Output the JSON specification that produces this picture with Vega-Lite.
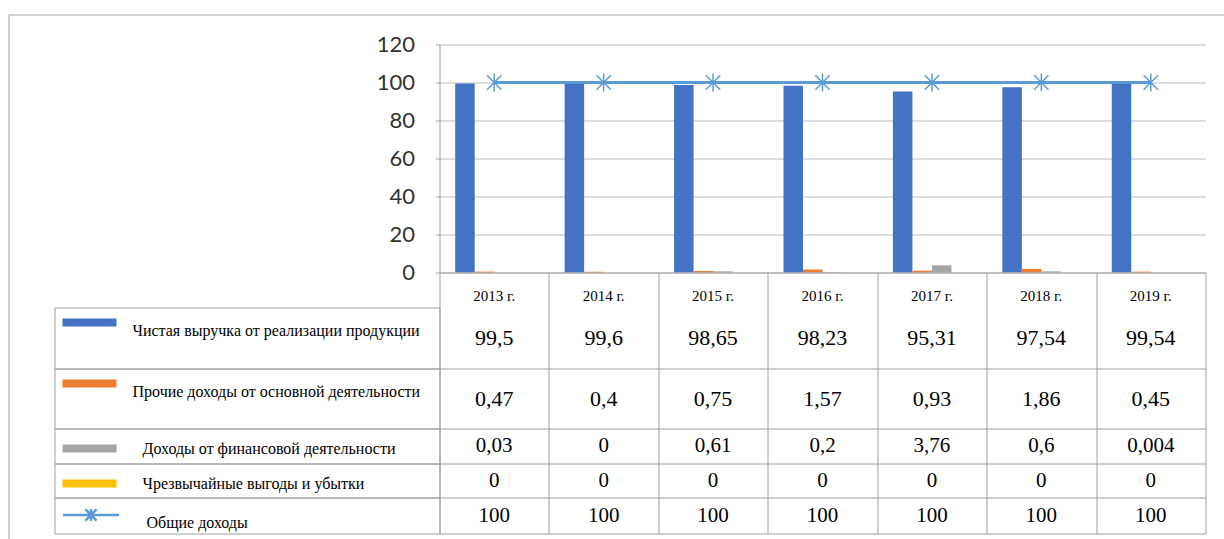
{
  "$schema": "https://vega.github.io/schema/vega-lite/v6.json",
  "background": "white",
  "padding": {"left": 8.5, "top": 8.5, "right": 0, "bottom": 0},
  "autosize": {"type": "pad"},
  "datasets": {
    "d": [
      {"year": "2013 г.", "series": "Чистая выручка от реализации продукции", "v": 99.5},
      {"year": "2014 г.", "series": "Чистая выручка от реализации продукции", "v": 99.6},
      {"year": "2015 г.", "series": "Чистая выручка от реализации продукции", "v": 98.65},
      {"year": "2016 г.", "series": "Чистая выручка от реализации продукции", "v": 98.23},
      {"year": "2017 г.", "series": "Чистая выручка от реализации продукции", "v": 95.31},
      {"year": "2018 г.", "series": "Чистая выручка от реализации продукции", "v": 97.54},
      {"year": "2019 г.", "series": "Чистая выручка от реализации продукции", "v": 99.54},
      {"year": "2013 г.", "series": "Прочие доходы от основной деятельности", "v": 0.47},
      {"year": "2014 г.", "series": "Прочие доходы от основной деятельности", "v": 0.4},
      {"year": "2015 г.", "series": "Прочие доходы от основной деятельности", "v": 0.75},
      {"year": "2016 г.", "series": "Прочие доходы от основной деятельности", "v": 1.57},
      {"year": "2017 г.", "series": "Прочие доходы от основной деятельности", "v": 0.93},
      {"year": "2018 г.", "series": "Прочие доходы от основной деятельности", "v": 1.86},
      {"year": "2019 г.", "series": "Прочие доходы от основной деятельности", "v": 0.45},
      {"year": "2013 г.", "series": "Доходы от финансовой деятельности", "v": 0.03},
      {"year": "2014 г.", "series": "Доходы от финансовой деятельности", "v": 0},
      {"year": "2015 г.", "series": "Доходы от финансовой деятельности", "v": 0.61},
      {"year": "2016 г.", "series": "Доходы от финансовой деятельности", "v": 0.2},
      {"year": "2017 г.", "series": "Доходы от финансовой деятельности", "v": 3.76},
      {"year": "2018 г.", "series": "Доходы от финансовой деятельности", "v": 0.6},
      {"year": "2019 г.", "series": "Доходы от финансовой деятельности", "v": 0.004},
      {"year": "2013 г.", "series": "Чрезвычайные выгоды и убытки", "v": 0},
      {"year": "2014 г.", "series": "Чрезвычайные выгоды и убытки", "v": 0},
      {"year": "2015 г.", "series": "Чрезвычайные выгоды и убытки", "v": 0},
      {"year": "2016 г.", "series": "Чрезвычайные выгоды и убытки", "v": 0},
      {"year": "2017 г.", "series": "Чрезвычайные выгоды и убытки", "v": 0},
      {"year": "2018 г.", "series": "Чрезвычайные выгоды и убытки", "v": 0},
      {"year": "2019 г.", "series": "Чрезвычайные выгоды и убытки", "v": 0},
      {"year": "2013 г.", "series": "Общие доходы", "v": 100},
      {"year": "2014 г.", "series": "Общие доходы", "v": 100},
      {"year": "2015 г.", "series": "Общие доходы", "v": 100},
      {"year": "2016 г.", "series": "Общие доходы", "v": 100},
      {"year": "2017 г.", "series": "Общие доходы", "v": 100},
      {"year": "2018 г.", "series": "Общие доходы", "v": 100},
      {"year": "2019 г.", "series": "Общие доходы", "v": 100}
    ]
  },
  "columns": 2,
  "spacing": 0,
  "bounds": "flush",
  "align": "each",
  "resolve": {
    "scale": {"x": "independent", "y": "independent", "color": "independent", "xOffset": "independent"},
    "axis": {"x": "independent", "y": "independent"},
    "legend": {"color": "independent"}
  },
  "concat": [
    {
      "width": 385, "height": 228,
      "data": {"values": [{"a": 0, "b": 0}]},
      "mark": {"type": "text", "text": ""},
      "encoding": {
        "x": {"field": "a", "type": "quantitative", "scale": {"domain": [0, 1], "range": [-46, 1175], "nice": false, "zero": false},
              "axis": {"orient": "top", "offset": 30, "domain": true, "domainColor": "#a0a0a0", "ticks": false, "labels": false, "grid": false, "title": null}},
        "y": {"field": "b", "type": "quantitative", "scale": {"domain": [0, 1], "range": [-30, 500], "nice": false, "zero": false},
              "axis": {"orient": "left", "offset": 46, "domain": true, "domainColor": "#a0a0a0", "ticks": false, "labels": false, "grid": false, "title": null}}
      }
    },
    {
      "width": 766, "height": 228,
      "data": {"name": "d"},
      "encoding": {
        "x": {"field": "year", "type": "nominal", "scale": {"type": "band", "paddingInner": 0.287, "paddingOuter": 0.1435}, "axis": null},
        "y": {"field": "v", "type": "quantitative", "scale": {"domain": [0, 120], "nice": false},
              "axis": {"orient": "left", "values": [0, 20, 40, 60, 80, 100, 120], "tickCount": 7, "labelOverlap": false, "grid": true, "gridColor": "#bdbdbd", "domain": true, "domainColor": "#a0a0a0", "ticks": true, "tickSize": 4, "tickColor": "#a0a0a0", "labelPadding": 21, "labelFont": "Lato", "labelFontSize": 22, "labelColor": "#333333", "title": null}}
      },
      "layer": [
        {
          "transform": [{"filter": "datum.series !== 'Общие доходы'"}],
          "mark": {"type": "bar"},
          "encoding": {
            "xOffset": {"field": "series", "type": "nominal", "scale": {"domain": ["Чистая выручка от реализации продукции", "Прочие доходы от основной деятельности", "Доходы от финансовой деятельности", "Чрезвычайные выгоды и убытки"], "paddingInner": 0, "paddingOuter": 0}},
            "color": {"field": "series", "type": "nominal", "scale": {"domain": ["Чистая выручка от реализации продукции", "Прочие доходы от основной деятельности", "Доходы от финансовой деятельности", "Чрезвычайные выгоды и убытки"], "range": ["#4472C4", "#ED7D31", "#A5A5A5", "#FFC000"]}, "legend": null}
          }
        },
        {
          "transform": [{"filter": "datum.series === 'Общие доходы'"}],
          "mark": {"type": "line", "color": "#5B9BD5", "strokeWidth": 3},
          "encoding": {}
        },
        {
          "transform": [{"filter": "datum.series === 'Общие доходы'"}],
          "mark": {"type": "point", "shape": "M0,-1L0,1M-0.8,-0.8L0.8,0.8M-0.8,0.8L0.8,-0.8", "size": 324, "filled": false, "color": "#5B9BD5", "strokeWidth": 1.5, "opacity": 1},
          "encoding": {}
        }
      ]
    },
    {
      "width": 385, "height": 35,
      "data": {"values": []},
      "mark": "text"
    },
    {
      "width": 766, "height": 35,
      "data": {"name": "d"},
      "transform": [{"filter": "datum.series === 'Общие доходы'"}],
      "mark": {"type": "text", "font": "Liberation Serif", "fontSize": 15, "color": "black", "dy": 6},
      "encoding": {
        "x": {"field": "year", "type": "nominal", "scale": {"type": "band", "paddingInner": 0, "paddingOuter": 0},
              "axis": {"orient": "top", "domain": true, "domainColor": "#a0a0a0", "grid": true, "gridColor": "#a0a0a0", "tickBand": "extent", "ticks": false, "labels": false, "title": null}},
        "text": {"field": "year"}
      }
    },
    {
      "width": 385, "height": 61, "view": {"stroke": "#a0a0a0"},
      "data": {"name": "d"},
      "transform": [{"filter": "datum.series === 'Чистая выручка от реализации продукции'"}],
      "mark": {"type": "square", "filled": true, "opacity": 0},
      "encoding": {
        "color": {"field": "series", "type": "nominal", "scale": {"range": ["#4472C4"]},
                  "legend": {"title": null, "orient": "none", "legendX": 8, "legendY": -12, "padding": 0, "symbolType": "M-1,-0.15L1,-0.15L1,0.15L-1,0.15Z", "symbolSize": 2916, "symbolStrokeWidth": 0, "labelFont": "Liberation Serif", "labelFontSize": 16, "labelColor": "black", "labelOffset": 16, "labelLimit": 600, "labelBaseline": "top"}}
      }
    },
    {
      "width": 766, "height": 61,
      "data": {"name": "d"},
      "transform": [{"filter": "datum.series === 'Чистая выручка от реализации продукции'"}, {"calculate": "replace(toString(datum.v), '.', ',')", "as": "lab"}],
      "mark": {"type": "text", "font": "Liberation Serif", "fontSize": 22, "color": "black"},
      "encoding": {
        "x": {"field": "year", "type": "nominal", "scale": {"type": "band", "paddingInner": 0, "paddingOuter": 0},
              "axis": {"orient": "bottom", "domain": true, "domainColor": "#a0a0a0", "grid": true, "gridColor": "#a0a0a0", "tickBand": "extent", "ticks": false, "labels": false, "title": null}},
        "text": {"field": "lab"}
      }
    },
    {
      "width": 385, "height": 60, "view": {"stroke": "#a0a0a0"},
      "data": {"name": "d"},
      "transform": [{"filter": "datum.series === 'Прочие доходы от основной деятельности'"}],
      "mark": {"type": "square", "filled": true, "opacity": 0},
      "encoding": {
        "color": {"field": "series", "type": "nominal", "scale": {"range": ["#ED7D31"]},
                  "legend": {"title": null, "orient": "none", "legendX": 8, "legendY": -12, "padding": 0, "symbolType": "M-1,-0.15L1,-0.15L1,0.15L-1,0.15Z", "symbolSize": 2916, "symbolStrokeWidth": 0, "labelFont": "Liberation Serif", "labelFontSize": 16, "labelColor": "black", "labelOffset": 16, "labelLimit": 600, "labelBaseline": "top"}}
      }
    },
    {
      "width": 766, "height": 60,
      "data": {"name": "d"},
      "transform": [{"filter": "datum.series === 'Прочие доходы от основной деятельности'"}, {"calculate": "replace(toString(datum.v), '.', ',')", "as": "lab"}],
      "mark": {"type": "text", "font": "Liberation Serif", "fontSize": 22, "color": "black"},
      "encoding": {
        "x": {"field": "year", "type": "nominal", "scale": {"type": "band", "paddingInner": 0, "paddingOuter": 0},
              "axis": {"orient": "bottom", "domain": true, "domainColor": "#a0a0a0", "grid": true, "gridColor": "#a0a0a0", "tickBand": "extent", "ticks": false, "labels": false, "title": null}},
        "text": {"field": "lab"}
      }
    },
    {
      "width": 385, "height": 35, "view": {"stroke": "#a0a0a0"},
      "data": {"name": "d"},
      "transform": [{"filter": "datum.series === 'Доходы от финансовой деятельности'"}],
      "mark": {"type": "square", "filled": true, "opacity": 0},
      "encoding": {
        "color": {"field": "series", "type": "nominal", "scale": {"range": ["#A5A5A5"]},
                  "legend": {"title": null, "orient": "none", "legendX": 8, "legendY": -7, "padding": 0, "symbolType": "M-1,-0.15L1,-0.15L1,0.15L-1,0.15Z", "symbolSize": 2916, "symbolStrokeWidth": 0, "labelFont": "Liberation Serif", "labelFontSize": 16, "labelColor": "black", "labelOffset": 26, "labelLimit": 600, "labelBaseline": "middle"}}
      }
    },
    {
      "width": 766, "height": 35,
      "data": {"name": "d"},
      "transform": [{"filter": "datum.series === 'Доходы от финансовой деятельности'"}, {"calculate": "replace(toString(datum.v), '.', ',')", "as": "lab"}],
      "mark": {"type": "text", "font": "Liberation Serif", "fontSize": 21, "color": "black"},
      "encoding": {
        "x": {"field": "year", "type": "nominal", "scale": {"type": "band", "paddingInner": 0, "paddingOuter": 0},
              "axis": {"orient": "bottom", "domain": true, "domainColor": "#a0a0a0", "grid": true, "gridColor": "#a0a0a0", "tickBand": "extent", "ticks": false, "labels": false, "title": null}},
        "text": {"field": "lab"}
      }
    },
    {
      "width": 385, "height": 34, "view": {"stroke": "#a0a0a0"},
      "data": {"name": "d"},
      "transform": [{"filter": "datum.series === 'Чрезвычайные выгоды и убытки'"}],
      "mark": {"type": "square", "filled": true, "opacity": 0},
      "encoding": {
        "color": {"field": "series", "type": "nominal", "scale": {"range": ["#FFC000"]},
                  "legend": {"title": null, "orient": "none", "legendX": 8, "legendY": -7, "padding": 0, "symbolType": "M-1,-0.15L1,-0.15L1,0.15L-1,0.15Z", "symbolSize": 2916, "symbolStrokeWidth": 0, "labelFont": "Liberation Serif", "labelFontSize": 16, "labelColor": "black", "labelOffset": 26, "labelLimit": 600, "labelBaseline": "middle"}}
      }
    },
    {
      "width": 766, "height": 34,
      "data": {"name": "d"},
      "transform": [{"filter": "datum.series === 'Чрезвычайные выгоды и убытки'"}, {"calculate": "replace(toString(datum.v), '.', ',')", "as": "lab"}],
      "mark": {"type": "text", "font": "Liberation Serif", "fontSize": 21, "color": "black"},
      "encoding": {
        "x": {"field": "year", "type": "nominal", "scale": {"type": "band", "paddingInner": 0, "paddingOuter": 0},
              "axis": {"orient": "bottom", "domain": true, "domainColor": "#a0a0a0", "grid": true, "gridColor": "#a0a0a0", "tickBand": "extent", "ticks": false, "labels": false, "title": null}},
        "text": {"field": "lab"}
      }
    },
    {
      "width": 385, "height": 36, "view": {"stroke": "#a0a0a0"},
      "data": {"name": "d"},
      "transform": [{"filter": "datum.series === 'Общие доходы'"}],
      "mark": {"type": "point", "filled": false, "opacity": 0},
      "encoding": {
        "color": {"field": "series", "type": "nominal", "scale": {"range": ["#5B9BD5"]},
                  "legend": {"title": null, "orient": "none", "legendX": 7, "legendY": -12, "padding": 0, "symbolType": "M-1,0L1,0M0,-0.21L0,0.21M-0.2,-0.2L0.2,0.2M-0.2,0.2L0.2,-0.2", "symbolSize": 3136, "symbolStrokeWidth": 2.5, "labelFont": "Liberation Serif", "labelFontSize": 16, "labelColor": "black", "labelOffset": 26, "labelLimit": 600, "labelBaseline": "top"}}
      }
    },
    {
      "width": 766, "height": 36,
      "data": {"name": "d"},
      "transform": [{"filter": "datum.series === 'Общие доходы'"}, {"calculate": "replace(toString(datum.v), '.', ',')", "as": "lab"}],
      "mark": {"type": "text", "font": "Liberation Serif", "fontSize": 21, "color": "black"},
      "encoding": {
        "x": {"field": "year", "type": "nominal", "scale": {"type": "band", "paddingInner": 0, "paddingOuter": 0},
              "axis": {"orient": "bottom", "domain": true, "domainColor": "#a0a0a0", "grid": true, "gridColor": "#a0a0a0", "tickBand": "extent", "ticks": false, "labels": false, "title": null}},
        "text": {"field": "lab"}
      }
    }
  ],
  "config": {
    "view": {"stroke": null},
    "legend": {"padding": 0}
  }
}
